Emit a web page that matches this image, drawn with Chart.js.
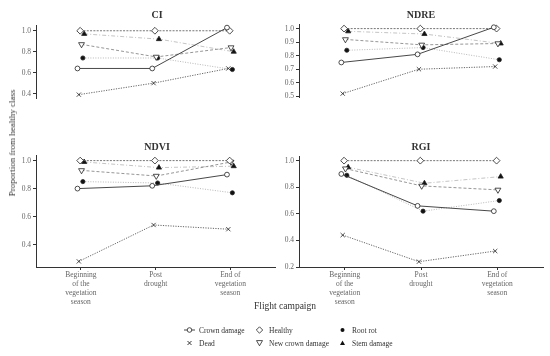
<!DOCTYPE html>
<html>
<head>
<meta charset="utf-8">
<script src="https://cdn.jsdelivr.net/npm/chart.js@4"></script>
<style>
  body { margin: 0; background: #fff; }
  #wrap { position: relative; width: 550px; height: 356px; font-family: "Liberation Serif", serif; color: #333; overflow: hidden; }
  .panel { position: absolute; }
  .ptitle { position: absolute; font-size: 10px; font-weight: bold; transform: translateX(-50%); color: #333; }
  #xtitle { position: absolute; left: 285px; top: 301px; transform: translateX(-50%); font-size: 9.5px; }
  #ytitle { position: absolute; left: 12px; top: 143px; transform: translate(-50%, -50%) rotate(-90deg); font-size: 9px; white-space: nowrap; }
  .lg { position: absolute; font-size: 7.5px; white-space: nowrap; display: flex; align-items: center; }
  .lg svg { margin-right: 4px; }
</style>
</head>
<body>
<div id="wrap">
  <div class="panel" style="left:0;top:0"><canvas id="ci" width="280" height="140"></canvas></div>
  <div class="panel" style="left:263px;top:0"><canvas id="ndre" width="287" height="140"></canvas></div>
  <div class="panel" style="left:0;top:140px"><canvas id="ndvi" width="280" height="165"></canvas></div>
  <div class="panel" style="left:263px;top:140px"><canvas id="rgi" width="287" height="165"></canvas></div>

  <div class="ptitle" style="left:157px;top:9px">CI</div>
  <div class="ptitle" style="left:421px;top:9px">NDRE</div>
  <div class="ptitle" style="left:157px;top:141px">NDVI</div>
  <div class="ptitle" style="left:421px;top:141px">RGI</div>

  <div id="ytitle">Proportion from healthy class</div>
  <div id="xtitle">Flight campaign</div>
  <div id="legend"></div>
</div>
<script>
// categories
const campaigns = [["Beginning", "of the", "vegetation", "season"], ["Post", "drought"], ["End of", "vegetation", "season"]];
const classes = ["Crown damage", "Dead", "Healthy", "New crown damage", "Root rot", "Stem damage"];

// CI
const ciCrown = [0.64, 0.64, 1.03];
const ciDead = [0.39, 0.50, 0.64];
const ciHealthy = [1.0, 1.0, 1.0];
const ciNewCrown = [0.87, 0.75, 0.84];
const ciRootRot = [0.74, 0.74, 0.63];
const ciStem = [0.97, 0.92, 0.80];
const ciTicks = [0.4, 0.6, 0.8, 1.0];

// NDRE
const ndreCrown = [0.75, 0.81, 1.01];
const ndreDead = [0.52, 0.70, 0.72];
const ndreHealthy = [1.0, 1.0, 1.0];
const ndreNewCrown = [0.92, 0.88, 0.89];
const ndreRootRot = [0.84, 0.86, 0.77];
const ndreStem = [0.98, 0.96, 0.89];
const ndreTicks = [0.5, 0.6, 0.7, 0.8, 0.9, 1.0];

// NDVI
const ndviCrown = [0.80, 0.82, 0.90];
const ndviDead = [0.28, 0.54, 0.51];
const ndviHealthy = [1.0, 1.0, 1.0];
const ndviNewCrown = [0.93, 0.89, 0.99];
const ndviRootRot = [0.85, 0.84, 0.77];
const ndviStem = [0.99, 0.95, 0.96];
const ndviTicks = [0.4, 0.6, 0.8, 1.0];

// RGI
const rgiCrown = [0.90, 0.66, 0.62];
const rgiDead = [0.44, 0.24, 0.32];
const rgiHealthy = [1.0, 1.0, 1.0];
const rgiNewCrown = [0.94, 0.81, 0.78];
const rgiRootRot = [0.89, 0.62, 0.70];
const rgiStem = [0.95, 0.83, 0.88];
const rgiTicks = [0.2, 0.4, 0.6, 0.8, 1.0];

// look of each class (same order as classes)
const styles = [
    { line: "#333", dash: [], point: "circle", r: 2.4, fill: "#fff", rot: 0 },
    { line: "#555", dash: [1.2, 1.3], point: "crossRot", r: 3, fill: "#fff", rot: 0 },
    { line: "#666", dash: [2, 1.3], point: "rectRot", r: 3.4, fill: "#fff", rot: 0 },
    { line: "#8a8a8a", dash: [3, 2], point: "triangle", r: 3.4, fill: "#fff", rot: 180 },
    { line: "#b0b0b0", dash: [1, 1.5], point: "circle", r: 2.1, fill: "#111", rot: 0 },
    { line: "#bdbdbd", dash: [4, 2, 1, 2], point: "triangle", r: 3, fill: "#111", rot: 0 }
];

const tickFont = { family: "Liberation Serif", size: 7.5 };
const tickColor = "#666";

function makePanel(id, series, ticks, yMin, yMax, showX, pad) {
    const datasets = series.map((vals, s) => {
        const st = styles[s];
        const shift = (s - 2.5) * 0.018; // small dodge like the original
        return {
            label: classes[s],
            data: vals.map((v, i) => ({ x: i + shift, y: v })),
            borderColor: st.line,
            borderWidth: 0.9,
            borderDash: st.dash,
            tension: 0,
            clip: false,
            pointStyle: st.point,
            pointRadius: st.r,
            pointRotation: st.rot,
            pointBackgroundColor: st.fill,
            pointBorderColor: "#222",
            pointBorderWidth: 0.8
        };
    });

    new Chart(document.getElementById(id), {
        type: "line",
        data: { datasets: datasets },
        options: {
            responsive: false,
            animation: false,
            layout: { padding: pad },
            plugins: { legend: { display: false }, tooltip: { enabled: false } },
            scales: {
                x: {
                    type: "linear",
                    min: -0.6,
                    max: 2.6,
                    display: showX,
                    afterBuildTicks: sc => { sc.ticks = campaigns.map((c, i) => ({ value: i })); },
                    afterFit: sc => { sc.height = 38; },
                    ticks: {
                        font: tickFont,
                        color: tickColor,
                        padding: 1,
                        maxRotation: 0,
                        autoSkip: false,
                        callback: v => campaigns[v]
                    },
                    grid: { drawOnChartArea: false, drawTicks: true, tickLength: 3, color: "#333" },
                    border: { display: true, color: "#333", width: 1 }
                },
                y: {
                    min: yMin,
                    max: yMax,
                    afterBuildTicks: sc => { sc.ticks = ticks.map(t => ({ value: t })); },
                    afterFit: sc => { sc.width = 36; },
                    ticks: {
                        font: tickFont,
                        color: tickColor,
                        padding: 2,
                        callback: v => v.toFixed(1)
                    },
                    grid: { drawOnChartArea: false, drawTicks: true, tickLength: 3, color: "#333" },
                    border: { display: true, color: "#333", width: 1 }
                }
            }
        }
    });
}

makePanel("ci", [ciCrown, ciDead, ciHealthy, ciNewCrown, ciRootRot, ciStem], ciTicks, 0.358, 1.055, false,
    { top: 25, bottom: 4, left: 0, right: 1 });
makePanel("ndre", [ndreCrown, ndreDead, ndreHealthy, ndreNewCrown, ndreRootRot, ndreStem], ndreTicks, 0.495, 1.034, false,
    { top: 24, bottom: 5, left: 0, right: 7 });
makePanel("ndvi", [ndviCrown, ndviDead, ndviHealthy, ndviNewCrown, ndviRootRot, ndviStem], ndviTicks, 0.24, 1.04, true,
    { top: 15, bottom: 0, left: 0, right: 1 });
makePanel("rgi", [rgiCrown, rgiDead, rgiHealthy, rgiNewCrown, rgiRootRot, rgiStem], rgiTicks, 0.2, 1.035, true,
    { top: 16, bottom: 0, left: 0, right: 7 });

// legend (three columns, two rows)
function keyIcon(s) {
    let shape = "";
    if (s === 0) {
        shape = '<line x1="0" y1="5" x2="11" y2="5" stroke="#333" stroke-width="0.9"/>' +
                '<circle cx="5.5" cy="5" r="2.3" fill="#fff" stroke="#222" stroke-width="0.8"/>';
    } else if (s === 1) {
        shape = '<path d="M3.5 3 L7.5 7 M7.5 3 L3.5 7" stroke="#222" stroke-width="0.9"/>';
    } else if (s === 2) {
        shape = '<path d="M5.5 1.8 L8.7 5 L5.5 8.2 L2.3 5 Z" fill="#fff" stroke="#222" stroke-width="0.8"/>';
    } else if (s === 3) {
        shape = '<path d="M2.5 2.6 L8.5 2.6 L5.5 7.8 Z" fill="#fff" stroke="#222" stroke-width="0.8"/>';
    } else if (s === 4) {
        shape = '<circle cx="5.5" cy="5" r="2" fill="#111"/>';
    } else {
        shape = '<path d="M5.5 2.4 L8 7 L3 7 Z" fill="#111"/>';
    }
    return '<svg width="11" height="10">' + shape + '</svg>';
}

const legendCols = [184, 254, 337];
const legendRows = [325, 338];
const legendOrder = [[0, 1], [2, 3], [4, 5]];
let html = "";
legendOrder.forEach((col, c) => {
    col.forEach((s, r) => {
        html += '<div class="lg" style="left:' + legendCols[c] + 'px;top:' + legendRows[r] + 'px">' +
            keyIcon(s) + '<span>' + classes[s] + '</span></div>';
    });
});
document.getElementById("legend").innerHTML = html;
</script>
</body>
</html>
